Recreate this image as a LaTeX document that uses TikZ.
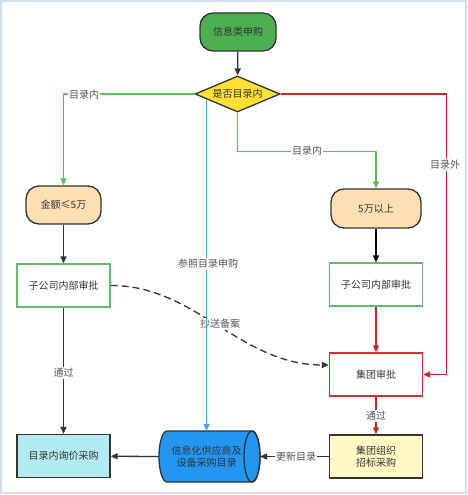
\documentclass[tikz,border=0pt]{standalone}
\usepackage{fontspec}
\newfontfamily\cjk{Noto Sans CJK SC}
\usetikzlibrary{shapes.geometric,arrows.meta,calc}
\definecolor{dark}{HTML}{333333}
\definecolor{lbl}{HTML}{555555}
\definecolor{startg}{HTML}{4CAF50}
\definecolor{diay}{HTML}{FFE033}
\definecolor{peach}{HTML}{FFE0B2}
\definecolor{gbord}{HTML}{66BB6A}
\definecolor{rbord}{HTML}{C83232}
\definecolor{cyanf}{HTML}{B2EBF2}
\definecolor{cylf}{HTML}{2196F3}
\definecolor{yelf}{HTML}{FFF9C4}
\definecolor{gline}{HTML}{5CBF5C}
\definecolor{bline}{HTML}{3FA0F5}
\definecolor{rline}{HTML}{C62828}
\definecolor{frame}{HTML}{D3DDEC}
\tikzset{
  base/.style={font=\cjk\fontsize{10}{12.5}\selectfont, text=dark, align=center, line width=1.3pt},
  pill/.style={base, draw=dark, rounded corners=13pt, minimum width=76pt, minimum height=38pt},
  box/.style={base, draw, minimum width=93pt, minimum height=43pt},
  tip/.style={-{Triangle[length=7pt,width=6pt]}},
  conn/.style={tip, line width=1.3pt},
  lab/.style={font=\cjk\fontsize{10}{12}\selectfont, text=lbl, fill=white, inner sep=1pt}
}
\begin{document}
\begin{tikzpicture}[x=1pt,y=-1pt]
\useasboundingbox (0,0) rectangle (467,495);
\draw[frame, line width=1.2pt] (1,1) rectangle (466,493);

\node[pill, fill=startg] (start) at (238,32) {信息类申购};
\node[base, diamond, draw=dark, fill=diay, aspect=2.36, minimum width=85pt, minimum height=36pt, inner sep=0pt] (dia) at (237.5,94) {是否目录内};
\node[pill, fill=peach, minimum width=75pt] (amt) at (63.5,205) {金额≤5万};
\node[pill, fill=peach, minimum width=90pt, minimum height=39pt] (big) at (376,208.5) {5万以上};
\node[box, draw=gbord] (sub1) at (63.5,285.5) {子公司内部审批};
\node[box, draw=gbord] (sub2) at (376,284.5) {子公司内部审批};
\node[box, draw=rbord] (grp) at (376,374.5) {集团审批};
\node[box, draw=dark, fill=yelf] (bid) at (376,456.5) {集团组织\\招标采购};
\node[box, draw=dark, fill=cyanf] (inq) at (63.5,456) {目录内询价采购};

% cylinder (database)
\path[fill=cylf, draw=dark, line width=1.3pt] (252,431) -- (167,431) arc[start angle=90, end angle=270, x radius=8pt, y radius=25.5pt] -- (252,482) arc[start angle=270, end angle=450, x radius=8pt, y radius=25.5pt] -- cycle;
\draw[dark, line width=1.3pt] (252,456.5) ellipse[x radius=8pt, y radius=25.5pt];
\node[base, minimum width=101pt, minimum height=51pt, inner sep=0pt, xshift=-3pt] (cyl) at (209.5,456.5) {信息化供应商及\\设备采购目录};
\coordinate (cylE) at (260,456.5);
\coordinate (cylW) at (159,456.5);

% connectors
\draw[conn, dark] (start) -- (dia);
\draw[conn, gline] (dia.west) -| (amt.north);
\node[lab] (l1) at (84,94.5) {目录内};
\draw[conn, dark] (amt) -- (sub1);
\draw[conn, dark] (sub1) -- (inq);
\node[lab] (l2) at (63.5,373) {通过};

\draw[conn, gline] (dia.south) -- ++(0,39) -| (big.north);
\node[lab] (l3) at (307,151) {目录内};
\draw[conn, black] (big) -- (sub2);
\draw[conn, rline] (sub2) -- (grp);
\draw[conn, rline] (dia.east) -| ($(grp.east)+(23,0)$) -- (grp.east);
\node[lab] (l4) at (445,165) {目录外};
\draw[conn, rline] (grp) -- (bid);
\node[lab] (l5) at (376,416) {通过};

\draw[conn, dark, dashed, dash pattern=on 7pt off 4pt] (sub1.east) .. controls (195,285) and (240,365) .. ([yshift=9.5pt]grp.west);
\node[lab] (l6) at (220,324) {抄送备案};

\coordinate (bs) at ($(dia.west)!0.282!(dia.south)$);
\draw[conn, bline] (bs) -- (bs |- 0,431);
\node[lab] (l7) at (208,264) {参照目录申购};

\draw[conn, dark] (bid) -- (cylE);
\node[lab] (l8) at (296,457) {更新目录};
\draw[conn, dark] (cylW) -- (inq);
\end{tikzpicture}
\end{document}
